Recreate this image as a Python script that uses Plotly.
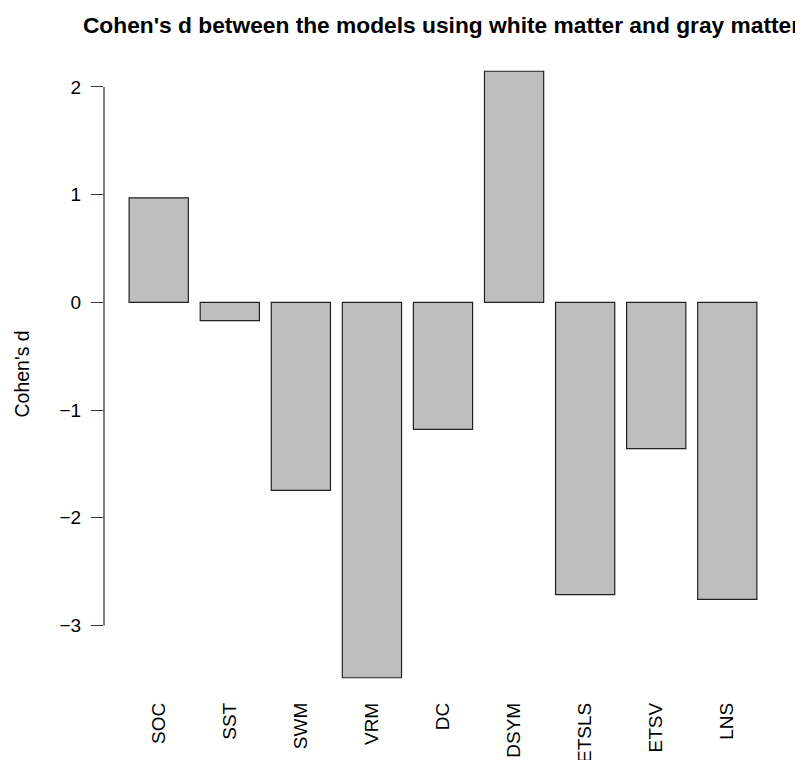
import plotly.graph_objects as go

models = ["SOC", "SST", "SWM", "VRM", "DC", "DSYM", "ETSLS", "ETSV", "LNS"]
cohens_d = [0.97, -0.17, -1.745, -3.485, -1.18, 2.145, -2.714, -1.358, -2.758]
y_ticks = [-3, -2, -1, 0, 1, 2]
y_tick_labels = ["\u22123", "\u22122", "\u22121", "0", "1", "2"]

FONT = "Liberation Sans, Arial, Helvetica, sans-serif"

lo = min(min(cohens_d), 0)
hi = max(max(cohens_d), 0)
pad = 0.04 * (hi - lo)
yr = [lo - pad, hi + pad]

# R barplot geometry: width 1, space 0.2 -> pitch 1.2; 4% x extension
n = len(models)
span = n * 1.2 - 0.2
xpad = 0.04 * span
left_units = 0.2 - xpad
right_units = 0.2 + span + xpad
xr = [(left_units - 0.7) / 1.2, (right_units - 0.7) / 1.2]

fig = go.Figure(go.Bar(
    x=models, y=cohens_d,
    marker=dict(color="#BEBEBE", line=dict(color="#222222", width=1.2)),
    width=1 / 1.2,
))

fig.add_shape(type="line", xref="paper", yref="y", x0=0, x1=0,
              y0=min(y_ticks), y1=max(y_ticks),
              line=dict(color="#333333", width=1.3))

fig.add_annotation(text="Cohen's d", xref="paper", yref="paper", x=0, y=0.5,
                   xanchor="center", yanchor="middle", xshift=-83, textangle=-90,
                   showarrow=False, font=dict(family=FONT, size=19.5, color="black"))

fig.update_layout(
    width=803, height=760,
    margin=dict(l=96, r=29, t=39, b=66),
    plot_bgcolor="white", paper_bgcolor="white",
    showlegend=False,
    font=dict(family=FONT, size=19, color="black"),
    title=dict(text="<b>Cohen's d between the models using white matter and gray matter</b>",
               x=433.5 / 803, xanchor="center", y=1 - 17 / 760, yanchor="middle",
               font=dict(family=FONT, size=22.75, color="black")),
    xaxis=dict(range=xr, showline=False, showgrid=False, zeroline=False,
               ticks="", tickangle=-90, tickfont=dict(size=19), automargin=False,
               ticklabelstandoff=-4),
    yaxis=dict(range=yr, showline=False, showgrid=False, zeroline=False,
               tickmode="array", tickvals=y_ticks, ticktext=y_tick_labels,
               ticks="outside", ticklen=12, tickcolor="#333333", tickwidth=1.3,
               tickfont=dict(size=19), automargin=False, ticklabelstandoff=6),
)

fig.write_html("out.html")
